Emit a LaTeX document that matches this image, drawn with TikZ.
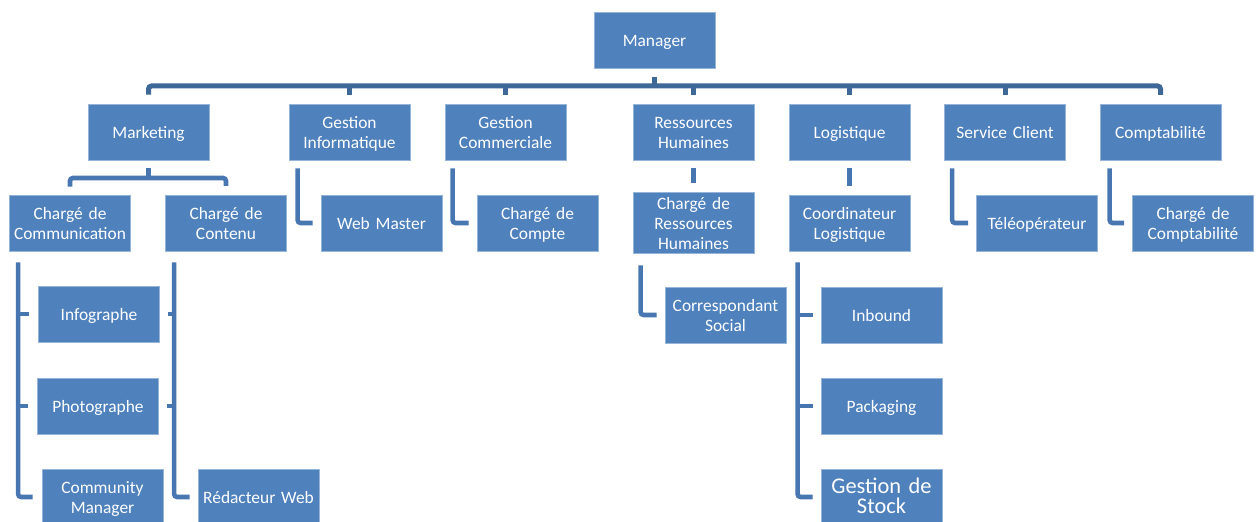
\documentclass[tikz,border=0pt]{standalone}
\usepackage{fontspec}
\setmainfont{Carlito}[WordSpace=1.8]
\newfontfamily\stockfont{Carlito}[WordSpace=0.6]
\usepackage{tikz}
\definecolor{orgblue}{RGB}{79,129,189}
\definecolor{orgedge}{RGB}{150,180,215}
\definecolor{orgline}{RGB}{72,118,176}
\definecolor{orgbus}{RGB}{62,104,152}
\tikzset{
  post/.style={draw=orgedge, line width=0.4pt, fill=orgblue, text=white,
    minimum width=60.5pt, minimum height=28pt, inner sep=0pt,
    text width=60pt, align=center,
    font=\fontsize{8.7}{10}\selectfont,
    execute at begin node={\rule{0pt}{8.7pt}},
    execute at end node={\rule[-2.2pt]{0pt}{2.2pt}}},
  link/.style={draw=orgline, line width=2.3pt, rounded corners=1.5pt},
  buslink/.style={link, draw=orgbus, line width=2.5pt}
}
\begin{document}
\begin{tikzpicture}[x=0.5pt, y=-0.5pt]
  \useasboundingbox (0,0) rectangle (1256,522);

  % === TOP ===
  \node[post] (mgr) at (654.5,40.5) {Manager};

  % === DEPARTMENTS ===
  \node[post] (mkt) at (148.5,132) {Marketing};
  \node[post] (ginfo) at (349.5,132) {Gestion\\Informatique};
  \node[post] (gcom) at (505.5,132) {Gestion\\Commerciale};
  \node[post] (rh) at (693.5,132) {Ressources\\Humaines};
  \node[post] (logi) at (849.5,132) {Logistique};
  \node[post] (sclient) at (1005,132) {Service Client};
  \node[post] (compta) at (1160.5,132) {Comptabilité};

  % Main bus
  \coordinate (bus) at (0,86);
  \draw[buslink] (mkt.north) ++(0,-9) |- (bus -| compta.north) -- ++(0,9);
  \draw[buslink] (mgr.south) ++(0,8) -- (mgr.south |- bus);
  \foreach \n in {ginfo,gcom,rh,logi,sclient}
    \draw[buslink] (\n.north) ++(0,-9) -- (\n.north |- bus);

  % === SECOND LEVEL ===
  \node[post] (chcom) at (70,223) {Chargé de\\Communication};
  \node[post] (chcont) at (226,223) {Chargé de\\Contenu};
  \node[post] (webm) at (381.5,223) {Web Master};
  \node[post] (chcpt) at (537.5,223) {Chargé de\\Compte};
  \node[post] (chrh) at (693.5,223) {Chargé de\\Ressources\\Humaines};
  \node[post] (coord) at (849.5,223) {Coordinateur\\Logistique};
  \node[post] (teleop) at (1037,223) {Téléopérateur};
  \node[post] (chcompta) at (1193,223) {Chargé de\\Comptabilité};

  % Marketing split
  \coordinate (mbus) at (0,178);
  \draw[link] (mkt.south) ++(0,8) -- (mkt.south |- mbus);
  \draw[link] (chcom.north) ++(0,-8) |- (mbus -| chcont.north) -- ++(0,8);
  % Elbows
  \draw[link, shorten >=4pt] (ginfo.south west) ++(9,8) |- (webm.west);
  \draw[link, shorten >=4pt] (gcom.south west) ++(8,8) |- (chcpt.west);
  \draw[link, shorten <=4pt, shorten >=4.5pt] (rh) -- (chrh);
  \draw[link, shorten <=4pt, shorten >=4.5pt] (logi) -- (coord);
  \draw[link, shorten >=4pt] (sclient.south west) ++(8,8) |- (teleop.west);
  \draw[link, shorten >=4pt] (compta.south west) ++(10,8) |- (chcompta.west);

  % === THIRD LEVEL ===
  \node[post] (info) at (99,314) {Infographe};
  \node[post] (photo) at (98,406) {Photographe};
  \node[post] (cmgr) at (102.5,497) {Community\\Manager};
  \node[post] (redac) at (258.5,497) {Rédacteur Web};
  \node[post] (corr) at (725.5,315) {Correspondant\\Social};
  \node[post] (inb) at (881.5,315) {Inbound};
  \node[post] (pack) at (881.5,406) {Packaging};
  \node[post, font=\fontsize{11.2}{10}\stockfont]
    (gstock) at (881.5,497) {Gestion de\\Stock};

  % Communication bracket
  \draw[link, shorten >=4.5pt] (chcom.south west) ++(9,11) coordinate (combar)
    |- (cmgr.west);
  \foreach \n in {info,photo}
    \draw[link, shorten >=4.5pt] (combar |- \n.west) -- (\n.west);
  % Contenu bracket
  \draw[link, shorten >=4pt] (chcont.south west) ++(9,11) coordinate (cntbar)
    |- (redac.west);
  \foreach \n in {info,photo}
    \draw[link, shorten >=4pt] (cntbar |- \n.east) -- (\n.east);
  % RH and Logistique
  \draw[link, shorten >=4pt] (chrh.south west) ++(8,11) |- (corr.west);
  \draw[link, shorten >=4pt] (coord.south west) ++(9,11) coordinate (logbar)
    |- (gstock.west);
  \foreach \n in {inb,pack}
    \draw[link, shorten >=4pt] (logbar |- \n.west) -- (\n.west);

\end{tikzpicture}
\end{document}
